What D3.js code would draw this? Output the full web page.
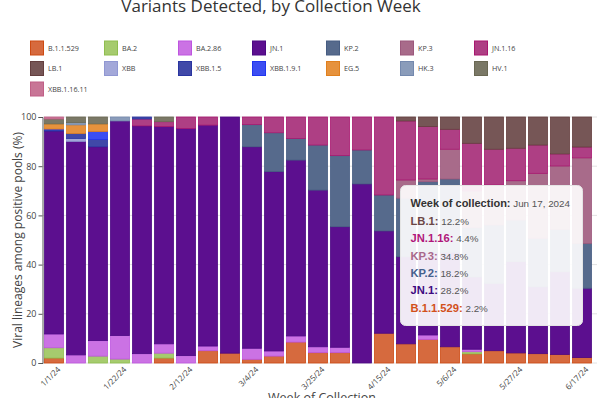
<!DOCTYPE html>
<html><head><meta charset="utf-8">
<script src="https://cdn.jsdelivr.net/npm/d3@7"></script>
<style>body{margin:0;background:#fff;overflow:hidden}svg{display:block}</style>
</head><body><svg id="c" width="600" height="398"></svg>
<script>
// ---- data ----
const weeks = ["2024-01-01","2024-01-08","2024-01-15","2024-01-22","2024-01-29","2024-02-05","2024-02-12","2024-02-19","2024-02-26","2024-03-04","2024-03-11","2024-03-18","2024-03-25","2024-04-01","2024-04-08","2024-04-15","2024-04-22","2024-04-29","2024-05-06","2024-05-13","2024-05-20","2024-05-27","2024-06-03","2024-06-10","2024-06-17"];
const tickLabels = ["1/1/24","1/22/24","2/12/24","3/4/24","3/25/24","4/15/24","5/6/24","5/27/24","6/17/24"];
const yTicks = [0,20,40,60,80,100];
const variantNames = ["B.1.1.529","BA.2","BA.2.86","JN.1","KP.2","KP.3","JN.1.16","LB.1","XBB","XBB.1.5","XBB.1.9.1","EG.5","HK.3","HV.1","XBB.1.16.11"];
const vB11529   = [2.0,0,0,0,0,2.0,0,5.0,4.0,1.5,2.8,8.5,4.2,4.2,0,12.1,7.8,9.6,6.6,3.7,5.0,4.1,3.8,3.5,2.2];
const vBA2      = [4.2,0,2.8,1.6,0,2.0,0,0,0,0,0,0,0,0,0,0,0,0,0,0.9,0,0,0,0,0];
const vBA286    = [5.6,3.3,6.3,9.6,3.8,3.8,3.0,1.9,0,4.5,2.1,2.5,2.4,2.2,0,0,0,1.8,0,1.0,0,0,0,0,0];
const vJN1      = [82.5,86.8,78.8,87.2,92.6,88.3,92.3,89.8,96.0,81.9,72.9,71.5,63.7,49.0,72.8,41.6,35.4,33.6,38.4,29.4,27.4,37.1,27.2,33.6,28.2];
const vKP2      = [0,0,0,0,0,0,0,0,0,9.0,15.8,8.8,18.3,28.9,13.8,14.6,23.8,28.7,29.8,20.0,23.7,16.9,19.7,17.2,18.2];
const vKP3      = [0,0,0,0,0,0,0,0,0,0,0,0,0,0,0,0,7.4,1.1,12.1,15.0,16.3,16.0,26.4,25.8,34.8];
const vJN116    = [0,0,0,0,2.8,2.0,4.7,3.3,0,3.1,6.4,8.7,11.4,15.7,13.4,31.7,24.0,21.3,8.1,19.3,14.5,13.2,11.5,4.9,4.4];
const vLB1      = [0,0,0,0,0,0,0,0,0,0,0,0,0,0,0,0,1.6,3.9,5.0,10.7,13.1,12.7,11.4,15.0,12.2];
const vXBB      = [0,1.2,0,0,0,0,0,0,0,0,0,0,0,0,0,0,0,0,0,0,0,0,0,0,0];
const vXBB15    = [0.5,2.0,3.0,0,0.8,0,0,0,0,0,0,0,0,0,0,0,0,0,0,0,0,0,0,0,0];
const vXBB191   = [0.3,0,3.2,0,0,0,0,0,0,0,0,0,0,0,0,0,0,0,0,0,0,0,0,0,0];
const vEG5      = [2.1,3.5,3.1,0,0,0,0,0,0,0,0,0,0,0,0,0,0,0,0,0,0,0,0,0,0];
const vHK3      = [0,0.9,0,1.6,0,0,0,0,0,0,0,0,0,0,0,0,0,0,0,0,0,0,0,0,0];
const vHV1      = [2.0,2.3,2.8,0,0,1.9,0,0,0,0,0,0,0,0,0,0,0,0,0,0,0,0,0,0,0];
const vXBB11611 = [0.8,0,0,0,0,0,0,0,0,0,0,0,0,0,0,0,0,0,0,0,0,0,0,0,0];
const seriesValues = [vB11529,vBA2,vBA286,vJN1,vKP2,vKP3,vJN116,vLB1,vXBB,vXBB15,vXBB191,vEG5,vHK3,vHV1,vXBB11611];
const fills   = ["#D66A3E","#A6CB6E","#CB72E4","#5C0F8F","#566A8C","#A86B8A","#AE3F84","#765656","#A3A8D9","#4049A8","#3C4EF2","#E6923D","#8A9CBA","#7A7866","#C87596"];
const strokes = ["#CD4A12","#8FBD4F","#BE55DF","#4B0883","#465C82","#9C587C","#A8176F","#643F3F","#9097D2","#2A35A0","#2136F0","#E0801E","#7489AE","#6A6853","#C05F86"];
const textCols= ["#D2501A","#7FAF40","#B850D8","#3D0A80","#44608C","#A8688A","#B0177A","#6B4646","#8088C8","#2A35A0","#2136F0","#D87810","#6A80A8","#5F5D4A","#B85580"];

// ---- build ----
const svg = d3.select("#c");
const rows = weeks.map((w,i)=>{const r={week:w}; variantNames.forEach((n,k)=>r[n]=seriesValues[k][i]); return r;});
const stack = d3.stack().keys(variantNames)(rows);

const x = d3.scaleBand().domain(weeks).range([43,593]).paddingInner(0.1).paddingOuter(0.05);
const y = d3.scaleLinear().domain([0,100]).range([363,117]);

// title
svg.append("text").attr("x",271).attr("y",12).attr("text-anchor","middle")
  .attr("font-family","'Open Sans',sans-serif").attr("font-size",17).attr("fill","#333")
  .text("Variants Detected, by Collection Week");

// legend
const leg = svg.append("g");
variantNames.forEach((n,k)=>{
  const col=k%7,row=Math.floor(k/7);
  const gx=30+col*74, gy=48+row*20.5;
  leg.append("rect").attr("x",gx+0.5).attr("y",gy-7).attr("width",13).attr("height",14)
    .attr("fill",fills[k]).attr("stroke",strokes[k]).attr("stroke-width",1);
  leg.append("text").attr("x",gx+18).attr("y",gy+2.5).attr("font-family","'Open Sans',sans-serif")
    .attr("font-size",7.2).attr("fill","#444").text(n);
});

// grid
svg.append("g").selectAll("line").data(yTicks).join("line")
  .attr("x1",43).attr("x2",597).attr("y1",d=>y(d)).attr("y2",d=>y(d))
  .attr("stroke","#e2e2e2").attr("stroke-width",1);

// y axis
const ya = svg.append("g").attr("transform","translate(42.5,0)")
  .call(d3.axisLeft(y).tickValues(yTicks).tickSize(4).tickPadding(2));
ya.select(".domain").attr("stroke","#555");
ya.selectAll(".tick line").attr("stroke","#555");
ya.selectAll("text").attr("font-family","'Open Sans',sans-serif").attr("font-size",9).attr("fill","#444");

// bars
svg.append("g").selectAll("g").data(stack).join("g")
  .attr("fill",(d,i)=>fills[i]).attr("stroke",(d,i)=>strokes[i]).attr("stroke-width",0.8)
  .selectAll("rect").data(d=>d.filter(s=>s[1]-s[0]>0)).join("rect")
  .attr("x",d=>x(d.data.week)+0.4).attr("width",x.bandwidth()-0.8)
  .attr("y",d=>y(d[1])).attr("height",d=>y(d[0])-y(d[1]));

// x tick labels
const tickWeeks = weeks.filter((w,i)=>i%3===0);
svg.append("g").selectAll("text").data(tickWeeks).join("text")
  .attr("transform",(d,i)=>`translate(${x(d)+x.bandwidth()/2+7},${370}) rotate(-45)`)
  .attr("text-anchor","end").attr("font-family","'Open Sans',sans-serif").attr("font-size",8)
  .attr("fill","#444").text((d,i)=>tickLabels[i]);

// axis titles
svg.append("text").attr("transform","translate(22,240) rotate(-90)").attr("text-anchor","middle")
  .attr("font-family","'Open Sans',sans-serif").attr("font-size",12).attr("fill","#444")
  .text("Viral lineages among positive pools (%)");
svg.append("text").attr("x",322).attr("y",402).attr("text-anchor","middle")
  .attr("font-family","'Open Sans',sans-serif").attr("font-size",12.5).attr("fill","#444")
  .text("Week of Collection");

// hover tooltip for last week
const last = weeks.length-1;
const tip = svg.append("g");
tip.append("rect").attr("x",400.5).attr("y",185.5).attr("width",182).attr("height",140).attr("rx",5)
  .attr("fill","#fff").attr("fill-opacity",0.91).attr("stroke","#e4e4e4");
const tf = "'Liberation Sans',Arial,sans-serif";
const hdr = tip.append("text").attr("x",410.5).attr("y",207).attr("font-family",tf);
hdr.append("tspan").attr("font-size",11).attr("font-weight","bold").attr("fill","#333").text("Week of collection:");
hdr.append("tspan").attr("font-size",9.8).attr("fill","#555").text(" "+d3.timeFormat("%b %-d, %Y")(d3.timeParse("%Y-%m-%d")(weeks[last])));
const items = variantNames.map((n,k)=>({n,k,v:seriesValues[k][last]})).filter(d=>d.v>0).reverse();
items.forEach((d,j)=>{
  const t = tip.append("text").attr("x",410.5).attr("y",225+j*17.3).attr("font-family",tf);
  t.append("tspan").attr("font-size",11.2).attr("font-weight","bold").attr("fill",textCols[d.k]).text(d.n+":");
  t.append("tspan").attr("font-size",9.8).attr("fill","#555").text(" "+d.v.toFixed(1)+"%");
});
</script></body></html>
